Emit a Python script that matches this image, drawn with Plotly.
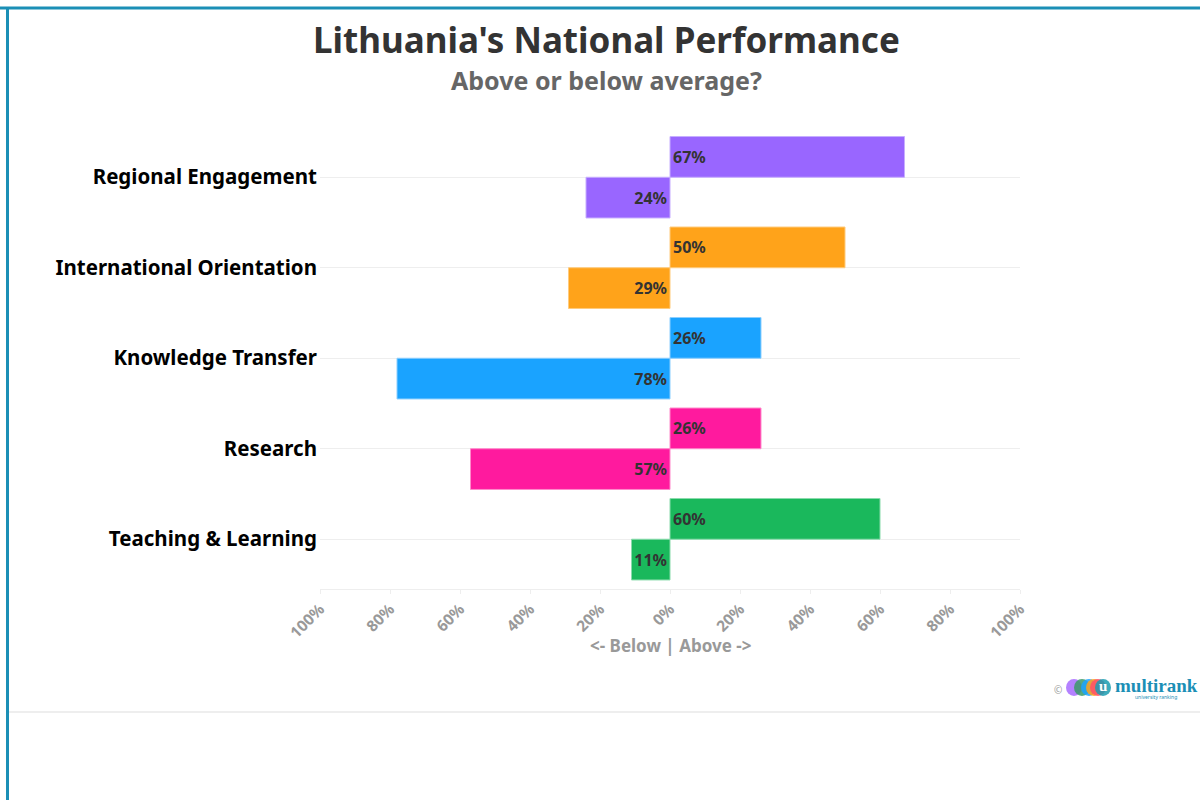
import plotly.graph_objects as go

categories = ["Regional Engagement", "International Orientation", "Knowledge Transfer", "Research", "Teaching & Learning"]
above = [67, 50, 26, 26, 60]
below = [24, 29, 78, 57, 11]
colors = ["#9966FF", "#FFA31A", "#1AA3FF", "#FF1A9E", "#1AB85C"]
line_colors = ["#C7AEFF", "#FFCB7D", "#8CCFFF", "#FF8ACB", "#8ADBAC"]
tick_vals = [-100, -80, -60, -40, -20, 0, 20, 40, 60, 80, 100]
tick_text = [f"{abs(v)}%" for v in tick_vals]
x_title = "<- Below | Above ->"

FONT = "Noto Sans"

L, R, T, B = 320, 180, 132, 211
W, H = 1200, 800
PW, PH = W - L - R, H - T - B

def px(x):
    return (x - L) / PW

def py(y):
    return (H - B - y) / PH

fig = go.Figure()
fig.add_trace(go.Bar(
    y=categories, x=above, orientation="h",
    marker=dict(color=colors, line=dict(color=line_colors, width=1)),
    width=0.45, offset=-0.45,
    text=[f"{v}%" for v in above], textposition="inside", insidetextanchor="start",
    textangle=0, constraintext="none",
    textfont=dict(family=FONT, size=16, color="#333333", weight="bold"),
    hoverinfo="skip", showlegend=False,
))
fig.add_trace(go.Bar(
    y=categories, x=[-v for v in below], orientation="h",
    marker=dict(color=colors, line=dict(color=line_colors, width=1)),
    width=0.45, offset=0.0,
    text=[f"{v}%" for v in below], textposition="inside", insidetextanchor="start",
    textangle=0, constraintext="none",
    textfont=dict(family=FONT, size=16, color="#333333", weight="bold"),
    hoverinfo="skip", showlegend=False,
))

shapes = [
    dict(type="line", xref="paper", yref="paper", x0=px(0), x1=px(1200), y0=py(8), y1=py(8),
         line=dict(color="#1B8FB6", width=3)),
    dict(type="line", xref="paper", yref="paper", x0=px(7.5), x1=px(7.5), y0=py(8), y1=py(800),
         line=dict(color="#1B8FB6", width=3)),
    dict(type="line", xref="paper", yref="paper", x0=px(9), x1=px(1200), y0=py(712), y1=py(712),
         line=dict(color="#EEEEEE", width=2)),
]
logo_circles = [(1074, "#A76BFF"), (1082, "#3A9A6A"), (1089, "#1AA3FF"), (1094, "#FFA31A"), (1098, "#FF4F6A"), (1103, "#1B9CB0")]
for cx, c in logo_circles:
    shapes.append(dict(type="circle", xref="paper", yref="paper",
                       x0=px(cx - 8), x1=px(cx + 8), y0=py(696), y1=py(679),
                       fillcolor=c, line=dict(width=0), opacity=0.85))

annotations = [
    dict(text="Lithuania's National Performance", xref="paper", yref="paper", x=px(606), y=py(40),
         xanchor="center", yanchor="middle", showarrow=False,
         font=dict(family=FONT, size=35, color="#333333", weight="bold")),
    dict(text="Above or below average?", xref="paper", yref="paper", x=px(606), y=py(80),
         xanchor="center", yanchor="middle", showarrow=False,
         font=dict(family=FONT, size=25, color="#666666", weight="bold")),
    dict(text=x_title, xref="paper", yref="paper", x=px(670), y=py(645),
         xanchor="center", yanchor="middle", showarrow=False,
         font=dict(family=FONT, size=17, color="#999999", weight="bold")),
    dict(text="©", xref="paper", yref="paper", x=px(1058), y=py(690),
         xanchor="center", yanchor="middle", showarrow=False,
         font=dict(family=FONT, size=10, color="#999999")),
    dict(text="u", xref="paper", yref="paper", x=px(1103), y=py(686),
         xanchor="center", yanchor="middle", showarrow=False,
         font=dict(family="Liberation Serif", size=15, color="#FFFFFF", weight="bold")),
    dict(text="multirank", xref="paper", yref="paper", x=px(1113), y=py(685),
         xanchor="left", yanchor="middle", showarrow=False,
         font=dict(family="Liberation Serif", size=19, color="#1B8FB6", weight="bold")),
    dict(text="university ranking", xref="paper", yref="paper", x=px(1133), y=py(697),
         xanchor="left", yanchor="middle", showarrow=False,
         font=dict(family=FONT, size=5, color="#1B8FB6")),
]

fig.update_layout(
    width=W, height=H,
    margin=dict(l=L, r=R, t=T, b=B, autoexpand=False),
    paper_bgcolor="white", plot_bgcolor="white",
    barmode="overlay",
    shapes=shapes, annotations=annotations,
    font=dict(family=FONT),
)
fig.update_xaxes(
    range=[-100, 100], tickvals=tick_vals, ticktext=tick_text, tickangle=-45,
    tickfont=dict(family=FONT, size=15.5, color="#999999", weight="bold"),
    showgrid=False, zeroline=False, showline=True, linecolor="#EEEEEE", linewidth=1,
    ticks="outside", ticklen=4, tickcolor="#EEEEEE",
    fixedrange=True,
)
fig.update_yaxes(
    categoryorder="array", categoryarray=categories,
    range=[4.55, -0.5],
    tickfont=dict(family=FONT, size=20.5, color="#000000", weight="bold"),
    showgrid=True, gridcolor="#EEEEEE", gridwidth=1, zeroline=False,
    ticks="", ticklabelstandoff=2, fixedrange=True,
)

fig.write_html("out.html")
